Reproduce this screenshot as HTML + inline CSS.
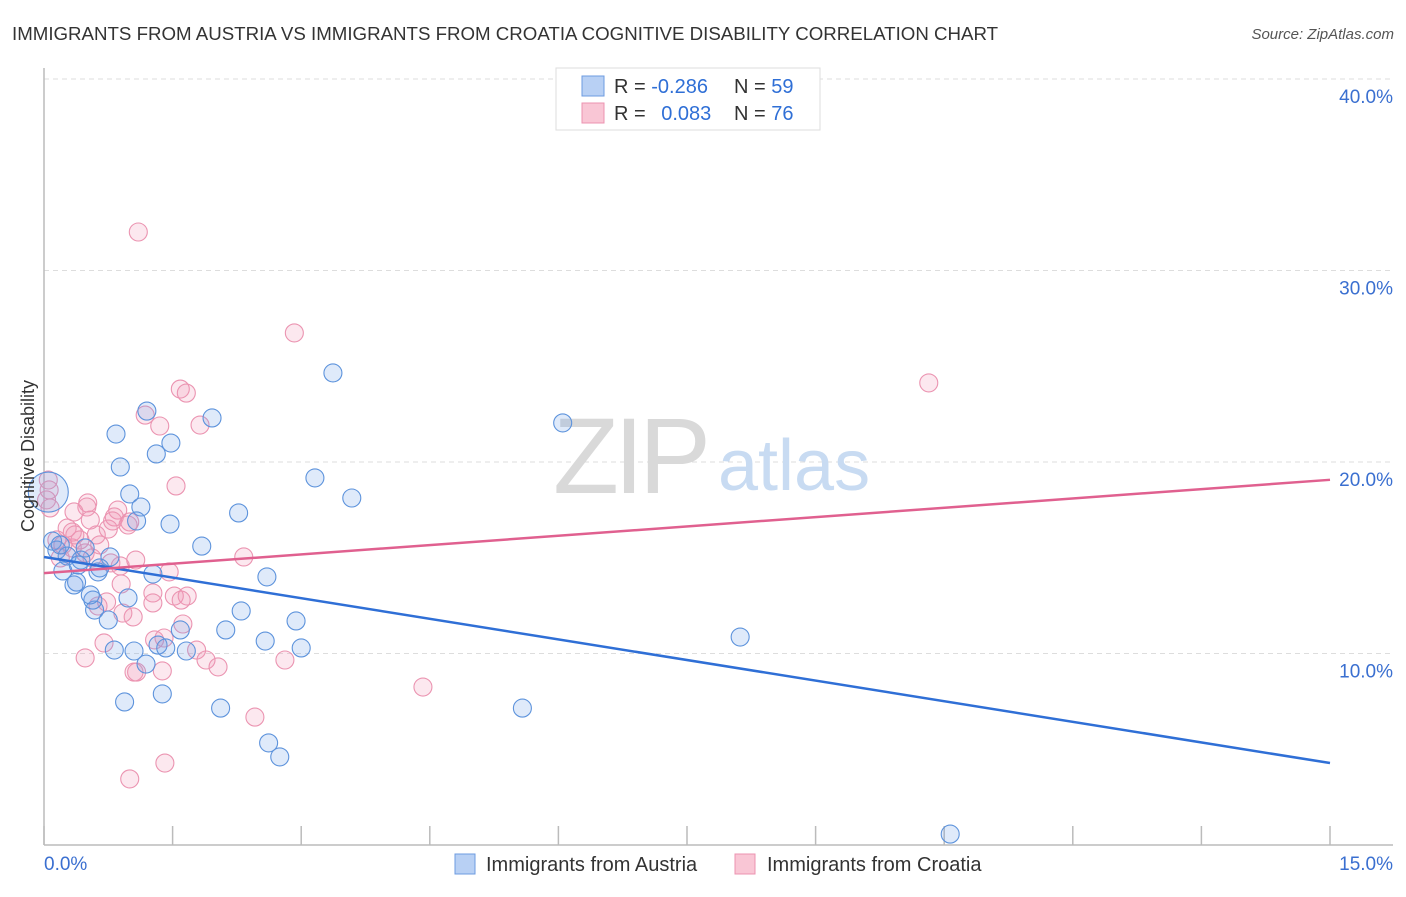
<!DOCTYPE html>
<html><head><meta charset="utf-8"><style>
body{margin:0;background:#fff;font-family:"Liberation Sans",sans-serif}
svg text{font-family:"Liberation Sans",sans-serif}
</style></head><body>
<svg id="chart" width="1406" height="892" viewBox="0 0 1406 892" xmlns="http://www.w3.org/2000/svg">
<text x="12" y="40" font-size="18.7" fill="#333">IMMIGRANTS FROM AUSTRIA VS IMMIGRANTS FROM CROATIA COGNITIVE DISABILITY CORRELATION CHART</text>
<text x="1394" y="39" font-size="15" fill="#555" font-style="italic" text-anchor="end">Source: ZipAtlas.com</text>
<g id="grid"></g>
<g>
<text x="553" y="493" font-size="108" fill="#d9d9d9" font-family="Liberation Serif" letter-spacing="-5">ZIP</text>
<text x="718" y="490" font-size="72" fill="#c8dbf2">atlas</text>
</g>
<g id="points"></g>
<g id="lines"></g>
<text transform="translate(34,456) rotate(-90)" font-size="18" fill="#333" text-anchor="middle">Cognitive Disability</text>
<g>
<rect x="556" y="68" width="264" height="62" fill="#fff" stroke="#ddd"/>
<rect x="582" y="76" width="22" height="20" fill="#b8d0f4" stroke="#6d9be0"/>
<rect x="582" y="103" width="22" height="20" fill="#f9c6d5" stroke="#ec93b0"/>
<text x="614" y="93" font-size="20" fill="#333">R = <tspan fill="#2f6fd6">-0.286</tspan></text>
<text x="734" y="93" font-size="20" fill="#333">N = <tspan fill="#2f6fd6">59</tspan></text>
<text x="614" y="120" font-size="20" fill="#333">R = <tspan fill="#2f6fd6" dx="10">0.083</tspan></text>
<text x="734" y="120" font-size="20" fill="#333">N = <tspan fill="#2f6fd6">76</tspan></text>
</g>
<g>
<rect x="455" y="854" width="20" height="20" fill="#b8d0f4" stroke="#6d9be0"/>
<text x="486" y="871" font-size="20" fill="#333">Immigrants from Austria</text>
<rect x="735" y="854" width="20" height="20" fill="#f9c6d5" stroke="#ec93b0"/>
<text x="767" y="871" font-size="20" fill="#333">Immigrants from Croatia</text>
</g>
</svg>
<script>
const yTicks=[10,20,30,40];
const yTickLabels=["10.0%","20.0%","30.0%","40.0%"];
const xTickVals=[0,1.5,3,4.5,6,7.5,9,10.5,12,13.5,15];
const xEndLabels=["0.0%","15.0%"];
const austriaX=[3.37,6.05,1.96,1.20,0.84,1.48,1.31,0.89,3.16,3.59,1.00,1.13,1.08,2.27,1.47,1.84,8.12,5.58,10.57,2.60,2.30,2.94,2.12,2.58,3.00,1.66,1.59,1.33,1.42,1.05,1.19,0.82,1.38,0.94,2.06,2.62,2.75,1.27,0.59,0.57,0.75,0.54,0.35,0.38,0.22,0.43,0.77,0.98,0.63,0.10,0.15,0.27,0.05,0.19,0.40,0.65,0.48];
const austriaY=[24.65,22.04,22.30,22.66,21.46,20.99,20.42,19.74,19.17,18.12,18.33,17.65,16.92,17.34,16.76,15.61,10.86,7.15,0.57,14.00,12.22,11.70,11.23,10.65,10.29,10.13,11.23,10.44,10.29,10.13,9.45,10.18,7.89,7.47,7.15,5.33,4.60,14.15,12.27,12.79,11.75,13.06,13.58,13.73,14.31,14.88,15.04,12.90,14.26,15.87,15.40,15.09,18.43,15.67,14.62,14.47,15.51];
const austriaBig=[52];
const croatiaX=[1.10,2.92,10.32,1.59,1.66,1.18,1.35,1.82,1.54,0.51,0.50,0.86,0.82,0.07,0.03,0.06,0.05,0.35,0.27,0.33,0.61,0.75,1.00,0.80,0.15,0.22,0.48,0.56,1.07,0.89,0.78,1.46,2.33,1.52,1.67,1.27,1.27,1.60,0.90,0.73,0.63,1.04,1.62,1.29,1.40,1.78,1.89,2.03,2.81,0.70,0.48,1.05,1.08,1.38,4.42,2.46,1.41,1.00,0.33,0.19,0.42,0.65,0.98,0.92,0.54,0.36];
const croatiaY=[32.01,26.74,24.13,23.81,23.60,22.45,21.88,21.93,18.75,17.86,17.65,17.49,17.13,17.60,18.02,18.54,19.06,17.39,16.55,16.34,16.19,16.50,16.87,16.92,15.93,15.67,15.25,14.99,14.88,14.57,14.73,14.26,15.04,13.00,13.00,13.16,12.64,12.79,13.63,12.69,12.48,11.91,11.54,10.71,10.81,10.18,9.66,9.30,9.66,10.55,9.77,9.03,9.03,9.09,8.25,6.68,4.28,3.45,15.51,14.99,15.93,15.67,16.71,12.11,16.97,16.19];
const trendX=[0,15];
const austriaTrend=[15.04,4.28];
const croatiaTrend=[14.20,19.07];

const NS="http://www.w3.org/2000/svg";
const X0=44,X1=1330,Y0=845,YPER=19.15;
function xs(v){return X0+(v/15)*(X1-X0);}
function ys(v){return Y0-v*YPER;}
function mk(tag,attrs,parent){const e=document.createElementNS(NS,tag);for(const k in attrs)e.setAttribute(k,attrs[k]);parent.appendChild(e);return e;}
const grid=document.getElementById('grid');
yTicks.forEach((t,i)=>{
  const l=mk('line',{x1:X0,x2:1393,y1:ys(t),y2:ys(t),stroke:'#ddd','stroke-dasharray':'5,4'},grid);
  
  
  const tx=mk('text',{x:1393,y:ys(t)+24,'font-size':19,fill:'#3a6fd0','text-anchor':'end'},grid);
  tx.textContent=yTickLabels[i];
  
  
});
const ya=mk('line',{x1:X0,x2:X0,y1:68,y2:Y0,stroke:'#bbb','stroke-width':1.5},grid);


const xa=mk('line',{x1:X0,x2:1393,y1:Y0,y2:Y0,stroke:'#bbb','stroke-width':1.5},grid);


xTickVals.forEach(v=>{
  const t=mk('line',{x1:xs(v),x2:xs(v),y1:826,y2:Y0,stroke:'#bbb','stroke-width':1.5},grid);
  
  
});
const xl0=mk('text',{x:44,y:870,'font-size':19,fill:'#3a6fd0'},grid);
xl0.textContent=xEndLabels[0];


const xl1=mk('text',{x:1393,y:870,'font-size':19,fill:'#3a6fd0','text-anchor':'end'},grid);
xl1.textContent=xEndLabels[1];



const pts=document.getElementById('points');
croatiaX.forEach((v,i)=>{
  const c=mk('circle',{cx:xs(v),cy:ys(croatiaY[i]),r:9,fill:'rgba(242,150,180,0.22)',stroke:'#eb94b1','stroke-width':1.1},pts);
  
  
});
austriaX.forEach((v,i)=>{
  const big=austriaBig.includes(i);
  const c=mk('circle',{cx:xs(v),cy:ys(austriaY[i]),r:big?20:9,fill:'rgba(110,160,230,0.22)',stroke:'#5d93dc','stroke-width':1.1},pts);
  
  
});
const lines=document.getElementById('lines');
const lb=mk('line',{x1:xs(trendX[0]),y1:ys(austriaTrend[0]),x2:xs(trendX[1]),y2:ys(austriaTrend[1]),stroke:'#2f6fd6','stroke-width':2.5},lines);


const lp=mk('line',{x1:xs(trendX[0]),y1:ys(croatiaTrend[0]),x2:xs(trendX[1]),y2:ys(croatiaTrend[1]),stroke:'#e0608f','stroke-width':2.5},lines);


</script>
</body></html>
